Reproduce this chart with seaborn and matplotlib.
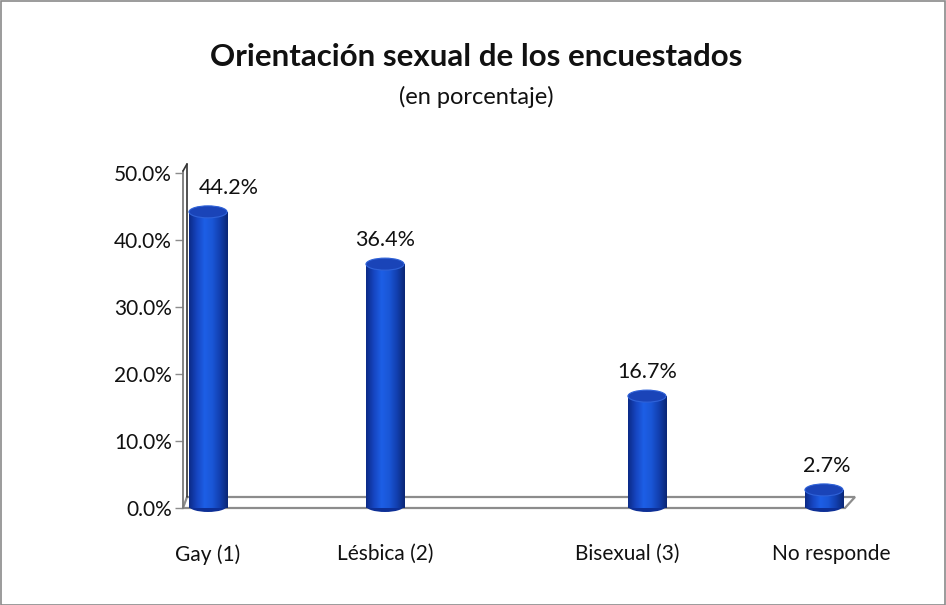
import numpy as np
import pandas as pd
import matplotlib
matplotlib.use("Agg")
import matplotlib.pyplot as plt
import matplotlib.transforms as mtransforms
import seaborn as sns
from matplotlib.patches import Ellipse, Rectangle, Polygon
from matplotlib.colors import LinearSegmentedColormap

# ---- data ----
categories = ["Gay (1)", "Lésbica (2)", "Bisexual (3)", "No responde"]
values = [44.2, 36.4, 16.7, 2.7]
value_labels = ["44.2%", "36.4%", "16.7%", "2.7%"]
y_ticks = [0, 10, 20, 30, 40, 50]
y_tick_labels = ["0.0%", "10.0%", "20.0%", "30.0%", "40.0%", "50.0%"]
title = "Orientación sexual de los encuestados"
subtitle = "(en porcentaje)"

# ---- layout (not data) ----
slots = [0.0, 1.0, 2.48, 3.48]
W, H = 946, 605
FONT = "Lato"

sns.set_theme(style="white")
plt.rcParams["font.family"] = [FONT, "DejaVu Sans"]

fig = plt.figure(figsize=(W / 100, H / 100), dpi=100)
ax = fig.add_axes([183 / W, 1 - 508 / H, (855 - 183) / W, (508 - 173) / H])

df = pd.DataFrame({"slot": slots, "value": values})
sns.barplot(data=df, x="slot", y="value", native_scale=True, width=0.215,
            color="#1a4fd0", ax=ax, zorder=3, errorbar=None)

xl = (183 - 208) / 177
xr = (855 - 208) / 177
ax.set_xlim(xl, xr)
ax.set_ylim(0, 50)
px_x = 1 / 177
px_y = 50 / 335

for s in ax.spines.values():
    s.set_visible(False)

# floor
floor_d = 11 * px_y
floor = Polygon([[xl, 0], [xr - 10 * px_x, 0], [xr, floor_d], [xl + 4 * px_x, floor_d]],
                closed=True, facecolor="white", edgecolor="#8c8c8c", lw=1.6,
                zorder=1, clip_on=False)
ax.add_patch(floor)
# wall
ax.plot([xl, xl], [0, 50 + 2 * px_y], color="#7a7a7a", lw=1.3, clip_on=False, zorder=2)
ax.plot([xl + 4 * px_x, xl + 4 * px_x], [floor_d, 50 + 9 * px_y], color="#333333", lw=1.2,
        clip_on=False, zorder=2)
ax.plot([xl, xl + 4 * px_x], [50 + 2 * px_y, 50 + 9 * px_y], color="#333333", lw=1.2,
        clip_on=False, zorder=2)

# cylinder gradient
cmap = LinearSegmentedColormap.from_list(
    "cyl", ["#0b2a86", "#1645c0", "#1d5fe6", "#1a56d6", "#123fae", "#0a2674"])
grad = np.linspace(0, 1, 256).reshape(1, -1)
ell_h = 12 * px_y
for p in list(ax.patches):
    if not isinstance(p, Rectangle) or p.get_height() <= 0:
        continue
    x0, w, h = p.get_x(), p.get_width(), p.get_height()
    p.set_facecolor("none")
    p.set_edgecolor("none")
    im = ax.imshow(grad, cmap=cmap, aspect="auto", extent=[x0, x0 + w, 0, h],
                   zorder=3, interpolation="bilinear")
    im.set_clip_path(p)
    ax.add_patch(Ellipse((x0 + w / 2, 0.3), w, ell_h, facecolor="#0d2f96",
                         edgecolor="none", zorder=2.9, clip_on=False))
    ax.add_patch(Ellipse((x0 + w / 2, h), w, ell_h, facecolor="#1a44b8",
                         edgecolor="#2f62d8", lw=0.8, zorder=4))

ax.set_xlim(xl, xr)
ax.set_ylim(0, 50)

# value labels
label_dx = [21 * px_x, 0, 0, 3 * px_x]
for sx, v, lab, dx in zip(slots, values, value_labels, label_dx):
    ax.text(sx + dx, v + 14 * px_y, lab, ha="center", va="bottom", fontsize=15.5,
            color="#111111", zorder=5)

ax.set_yticks(y_ticks)
ax.set_yticklabels(y_tick_labels, fontsize=15, color="#111111")
ax.set_xticks(slots)
ax.set_xticklabels(categories, fontsize=15, color="#111111")
ax.tick_params(axis="y", length=6, width=1, color="#8c8c8c", pad=2, left=True)
ax.tick_params(axis="x", length=0, pad=26)
ax.set_xlabel("")
ax.set_ylabel("")
ax.grid(False)
for t, dx in zip(ax.get_xticklabels(), [0, 0, -20, 7]):
    t.set_transform(t.get_transform() + mtransforms.ScaledTranslation(dx / 100, 0, fig.dpi_scale_trans))

fig.text(476 / W, 1 - 57 / H, title, ha="center", va="center", fontsize=22.5,
         fontweight="bold", color="#111111")
fig.text(476 / W, 1 - 97 / H, subtitle, ha="center", va="center", fontsize=17,
         color="#111111")

fig.patches.append(Rectangle((0.5 / W, 0.5 / H), 1 - 1.5 / W, 1 - 1.5 / H,
                             transform=fig.transFigure, facecolor="none",
                             edgecolor="#8a8a8a", lw=1.2))

fig.savefig("out.png", dpi=100, facecolor="white")
